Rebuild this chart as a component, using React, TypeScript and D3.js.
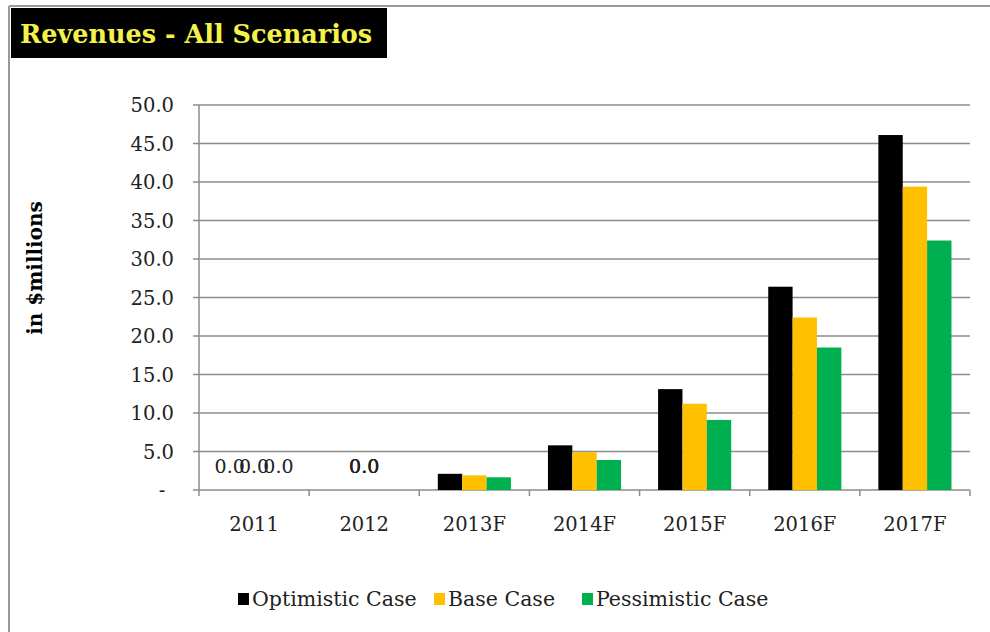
import React from "react";
import * as d3 from "d3";

const categories = ["2011", "2012", "2013F", "2014F", "2015F", "2016F", "2017F"];
const optimistic = [0, 0, 2.1, 5.8, 13.1, 26.4, 46.1];
const baseCase = [0, 0, 1.9, 4.9, 11.2, 22.4, 39.4];
const pessimistic = [0, 0, 1.65, 3.9, 9.1, 18.5, 32.4];
const seriesNames = ["Optimistic Case", "Base Case", "Pessimistic Case"];
const seriesColors = ["#000000", "#FFC000", "#00B050"];
const yTicks = [0, 5, 10, 15, 20, 25, 30, 35, 40, 45, 50];

const W = 990;
const H = 632;
const left = 199;
const right = 970;
const top = 105;
const bottom = 490;

export default function App() {
  const series = [optimistic, baseCase, pessimistic];
  const x = d3.scaleBand<string>().domain(categories).range([left, right]).paddingInner(0).paddingOuter(0);
  const inner = d3
    .scaleBand<number>()
    .domain([0, 1, 2])
    .range([0, x.bandwidth()])
    .paddingOuter(0.76)
    .paddingInner(0);
  const y = d3.scaleLinear().domain([0, 50]).range([bottom, top]);
  const fmt = d3.format(".1f");
  const grid = "#8c8c8c";
  const tickFont = "'DejaVu Serif', serif";

  const legendX = [238, 434, 582];

  return (
    <svg
      width={W}
      height={H}
      style={{ position: "absolute", left: 0, top: 0, background: "#fff" }}
      xmlns="http://www.w3.org/2000/svg"
    >
      <rect x={0} y={0} width={W} height={H} fill="#fff" />
      {/* frame */}
      <line x1={9} y1={6} x2={W} y2={6} stroke="#9a9a9a" strokeWidth={2} />
      <line x1={9} y1={6} x2={9} y2={H} stroke="#9a9a9a" strokeWidth={2} />

      {/* title */}
      <rect x={11} y={8} width={376} height={50} fill="#000" />
      <text
        x={20}
        y={43}
        fill="#F2F24A"
        fontFamily={tickFont}
        fontWeight="bold"
        fontSize={25.5}
      >
        Revenues - All Scenarios
      </text>

      {/* y axis label */}
      <text
        transform="translate(42,268) rotate(-90)"
        textAnchor="middle"
        fontFamily={tickFont}
        fontWeight="bold"
        fontSize={20}
        fill="#000"
      >
        in $millions
      </text>

      {/* gridlines and y ticks */}
      {yTicks.map((t) => (
        <g key={t}>
          <line x1={left - 6} x2={right} y1={y(t)} y2={y(t)} stroke={grid} strokeWidth={1.5} />
          <text
            x={t === 0 ? 162 : 174}
            y={y(t)}
            dy="0.36em"
            textAnchor={t === 0 ? "middle" : "end"}
            fontFamily={tickFont}
            fontSize={19.5}
            fill="#222"
          >
            {t === 0 ? "-" : fmt(t)}
          </text>
        </g>
      ))}

      {/* y axis */}
      <line x1={left} x2={left} y1={top} y2={bottom} stroke={grid} strokeWidth={1.5} />

      {/* x ticks */}
      {categories.concat(["__end"]).map((c, i) => {
        const xx = left + i * x.step();
        return <line key={c} x1={xx} x2={xx} y1={bottom} y2={bottom + 6} stroke={grid} strokeWidth={1.5} />;
      })}

      {/* bars */}
      {categories.map((c, ci) => (
        <g key={c}>
          {series.map((s, si) => {
            const v = s[ci];
            const bx = (x(c) as number) + (inner(si) as number);
            return (
              <rect
                key={si}
                x={bx}
                y={y(v)}
                width={inner.bandwidth()}
                height={bottom - y(v)}
                fill={seriesColors[si]}
              />
            );
          })}
        </g>
      ))}

      {/* zero data labels */}
      {categories.map((c, ci) =>
        series.map((s, si) => {
          const v = s[ci];
          if (v !== 0) return null;
          const cx =
            ci === 0
              ? (x(c) as number) + (inner(si) as number) + inner.bandwidth() / 2
              : (x(c) as number) + x.bandwidth() / 2;
          return (
            <text
              key={c + si}
              x={cx}
              y={y(v) - 24}
              dy="0.36em"
              textAnchor="middle"
              fontFamily={tickFont}
              fontSize={19}
              fill="#222"
            >
              {fmt(v)}
            </text>
          );
        })
      )}

      {/* x labels */}
      {categories.map((c) => (
        <text
          key={c}
          x={(x(c) as number) + x.bandwidth() / 2}
          y={531}
          textAnchor="middle"
          fontFamily={tickFont}
          fontSize={19.5}
          fill="#222"
        >
          {c}
        </text>
      ))}

      {/* legend */}
      {seriesNames.map((n, i) => (
        <g key={n}>
          <rect x={legendX[i]} y={593} width={11} height={12} fill={seriesColors[i]} />
          <text
            x={legendX[i] + 14}
            y={606}
            fontFamily={tickFont}
            fontSize={20.5}
            fill="#222"
          >
            {n}
          </text>
        </g>
      ))}
    </svg>
  );
}
